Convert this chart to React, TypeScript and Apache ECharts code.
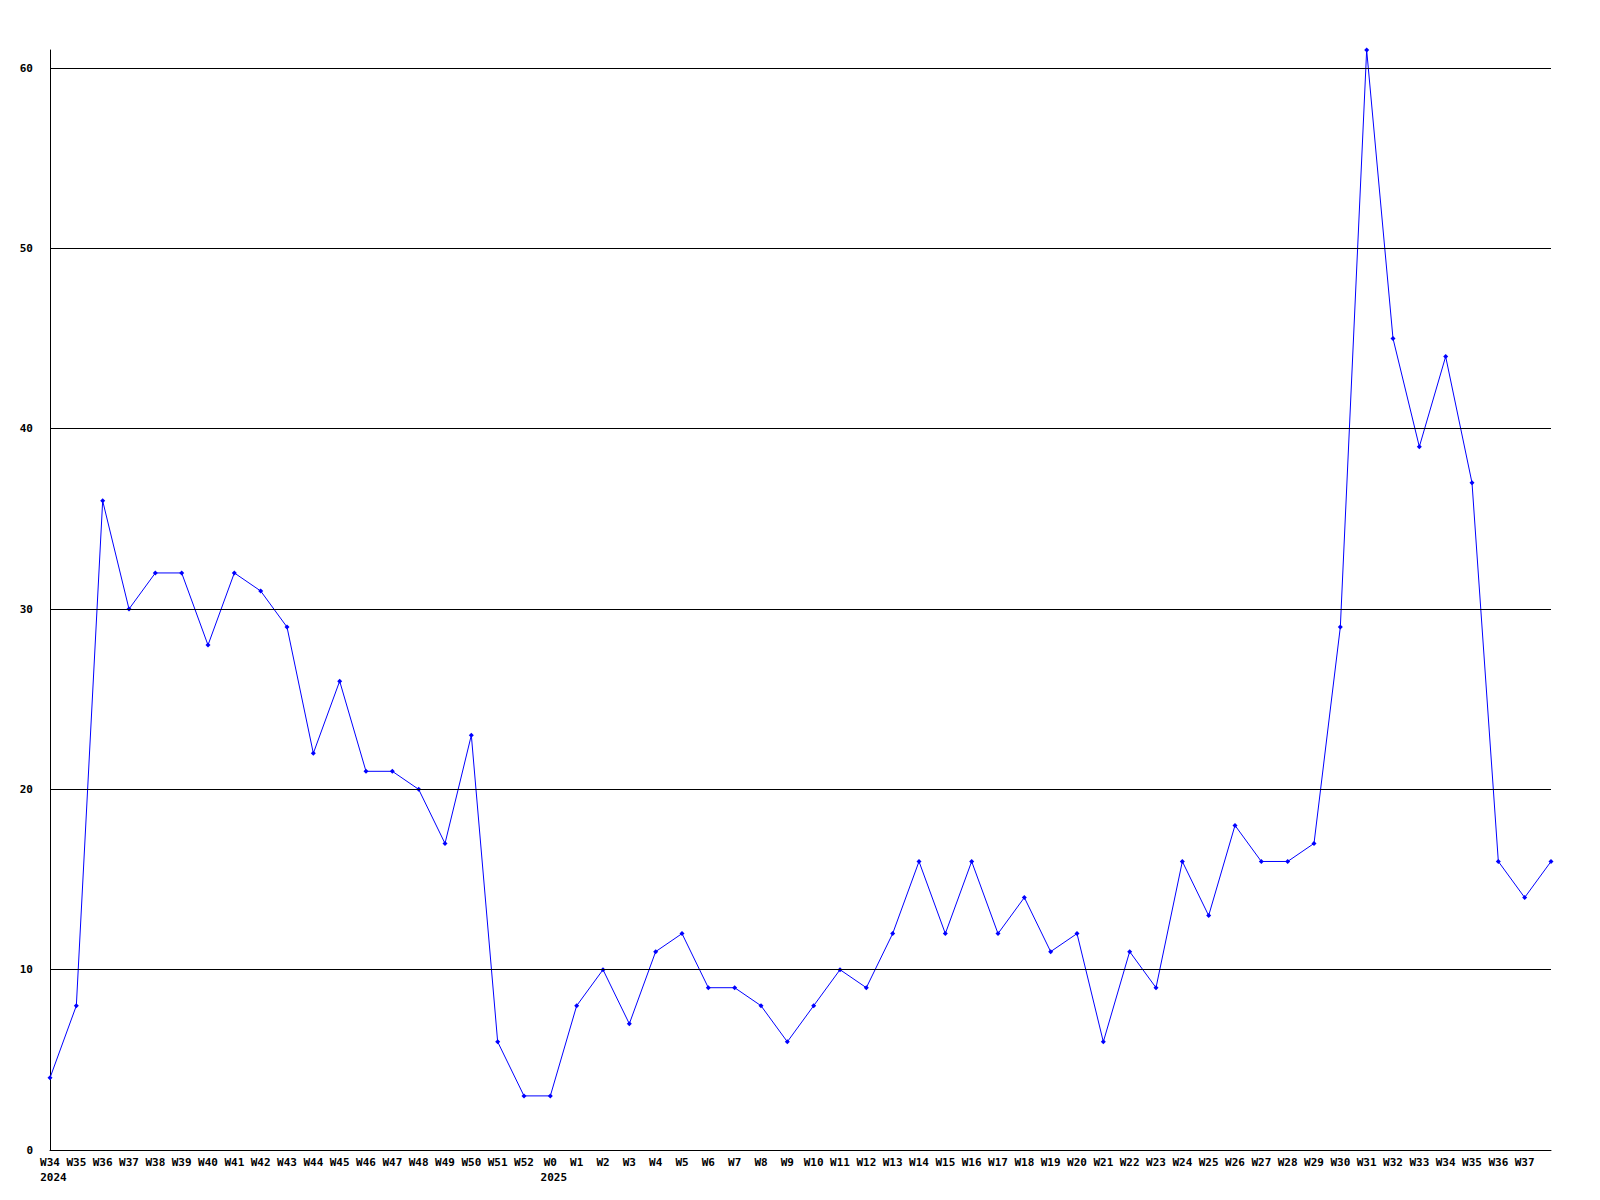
import React, { useEffect, useRef } from "react";
import * as echarts from "echarts";

const weeks: string[] = [
  "W34", "W35", "W36", "W37", "W38", "W39", "W40", "W41", "W42", "W43",
  "W44", "W45", "W46", "W47", "W48", "W49", "W50", "W51", "W52", "W0",
  "W1", "W2", "W3", "W4", "W5", "W6", "W7", "W8", "W9", "W10",
  "W11", "W12", "W13", "W14", "W15", "W16", "W17", "W18", "W19", "W20",
  "W21", "W22", "W23", "W24", "W25", "W26", "W27", "W28", "W29", "W30",
  "W31", "W32", "W33", "W34", "W35", "W36", "W37", "W38",
];

const yearMarks: Record<number, string> = { 0: "2024", 19: "2025" };

const values: number[] = [
  4, 8, 36, 30, 32, 32, 28, 32, 31, 29,
  22, 26, 21, 21, 20, 17, 23, 6, 3, 3,
  8, 10, 7, 11, 12, 9, 9, 8, 6, 8,
  10, 9, 12, 16, 12, 16, 12, 14, 11, 12,
  6, 11, 9, 16, 13, 18, 16, 16, 17, 29,
  61, 45, 39, 44, 37, 16, 14, 16,
];

const gridValues: number[] = [10, 20, 30, 40, 50, 60];

const FONT = "DejaVu Sans Mono";

export default function App() {
  const ref = useRef<HTMLDivElement>(null);

  useEffect(() => {
    document.body.style.margin = "0";
    if (!ref.current) return;
    const chart = echarts.init(ref.current, null, { renderer: "svg" });
    const lastIdx = weeks.length - 1;
    chart.setOption({
      animation: false,
      backgroundColor: "#ffffff",
      grid: { left: 50, right: 49, top: 50, bottom: 50, containLabel: false },
      xAxis: {
        type: "category",
        data: weeks,
        boundaryGap: false,
        axisLine: { lineStyle: { color: "#000", width: 1 } },
        axisTick: { show: false },
        splitLine: { show: false },
        axisLabel: {
          interval: 0,
          margin: 5,
          color: "#000",
          fontFamily: FONT,
          fontWeight: "bold",
          fontSize: 11,
          lineHeight: 15,
          formatter: (v: string, i: number) => {
            if (i === lastIdx) return "";
            const y = yearMarks[i];
            return y ? `${v}\n{y|${y}}` : v;
          },
          rich: {
            y: {
              fontFamily: FONT,
              fontWeight: "bold",
              fontSize: 11,
              lineHeight: 15,
              color: "#000",
              padding: [0, 0, 0, 7],
            },
          },
        },
      },
      yAxis: {
        type: "value",
        min: 0,
        max: 61,
        interval: 10,
        axisLine: { show: true, lineStyle: { color: "#000", width: 1 } },
        axisTick: { show: false },
        splitLine: { show: false },
        axisLabel: {
          margin: 17,
          color: "#000",
          fontFamily: FONT,
          fontWeight: "bold",
          fontSize: 11,
          showMaxLabel: false,
          formatter: (v: number) => (v % 10 === 0 ? String(v) : ""),
        },
      },
      series: [
        {
          type: "line",
          data: values,
          symbol: "diamond",
          symbolSize: 5,
          showAllSymbol: true,
          lineStyle: { color: "#0000ff", width: 1 },
          itemStyle: { color: "#0000ff" },
          markLine: {
            silent: true,
            symbol: ["none", "none"],
            label: { show: false },
            lineStyle: { color: "#000", width: 1, type: "solid" },
            data: gridValues.map((g) => ({ yAxis: g })),
          },
          z: 3,
        },
      ],
    });
    return () => chart.dispose();
  }, []);

  return <div ref={ref} style={{ width: 1600, height: 1200 }} />;
}
